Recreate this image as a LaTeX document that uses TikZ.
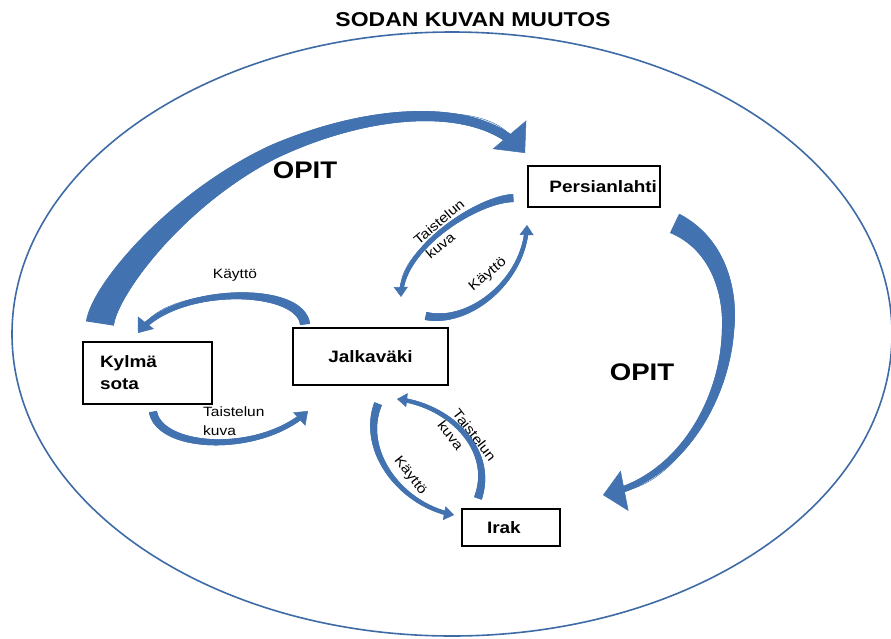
\documentclass[tikz,border=0pt]{standalone}
\usepackage{fontspec}
\setmainfont[FakeStretch=1.15]{Liberation Sans}
\usetikzlibrary{arrows.meta, decorations.markings}
\definecolor{arrowblue}{RGB}{66,114,176}
\definecolor{ringblue}{RGB}{62,106,166}
\tikzset{
    box/.style={rectangle, draw, line width=2pt, fill=white, inner sep=0pt, outer sep=0pt, font=\fontsize{16.5}{22}\selectfont\bfseries},
    lbl/.style={inner sep=0pt, align=left, font=\fontsize{13.5}{19}\selectfont},
    opit/.style={inner sep=0pt, font=\fontsize{24}{28}\selectfont\bfseries},
    % tapered block arrow: tail width, end width, head width, head length
    flow/.style n args={4}{draw=arrowblue, line width=0.5pt, -{Triangle[width=#3pt, length=#4pt]},
        postaction={decorate, decoration={markings,
            mark=between positions 0 and -#4pt step 0.4pt with {
                \pgfmathsetmacro\tpw{#2+(#1-#2)*(1-\pgfkeysvalueof{/pgf/decoration/mark info/distance from start}/\pgfdecoratedpathlength)^2}
                \fill[arrowblue] (-0.5pt,-\tpw pt/2) rectangle (0.5pt,\tpw pt/2);}}}}
}
\begin{document}
\begin{tikzpicture}[x=1pt, y=-1pt]
    \useasboundingbox (0,0) rectangle (891,638);

    \node[font=\fontsize{20}{24}\selectfont\bfseries] (title) at (473,19.5) {SODAN KUVAN MUUTOS};
    \draw[ringblue, line width=1.6pt] (452,334) ellipse [x radius=440pt, y radius=302pt];

    \node[box, minimum width=132, minimum height=41, text width=126, inner xsep=3pt, align=right] (persia) at (594,186.5) {Persianlahti};
    \node[box, minimum width=155, minimum height=57] (jalka) at (370.5,356.5) {Jalkaväki};
    \node[box, minimum width=129, minimum height=62, text width=95, inner xsep=17pt, align=left] (kylma) at (147.5,373) {Kylmä\\sota};
    \node[box, minimum width=98, minimum height=37, text width=48, inner xsep=25pt, align=left] (irak) at (511,527.5) {Irak};

    \node[opit] (opit1) at (305,170) {OPIT};
    \node[opit] (opit2) at (642,372) {OPIT};
    \node[lbl] (kaytto1) at (235,275) {Käyttö};
    \node[lbl, anchor=west] (taist1) at (203,421) {Taistelun\\kuva};
    \node[lbl, rotate=40] (taist2) at (445,229) {Taistelun\\kuva};
    \node[lbl, rotate=40] (kaytto2) at (488,275) {Käyttö};
    \node[lbl, rotate=-52] (taist3) at (467,441) {Taistelun\\kuva};
    \node[lbl, rotate=-52] (kaytto3) at (410,476) {Käyttö};

    % lessons
    \path[flow={28}{9}{44}{24}] ([xshift=-47.5pt, yshift=19pt]kylma.north) .. controls (105,290) and (175,200) .. (273,152)
        .. controls (370,108) and (480,100) .. ([xshift=-3pt, yshift=13pt]persia.north west);
    \path[flow={21}{6}{41}{22}] ([xshift=15pt, yshift=-37pt]persia.east) .. controls (720,245) and (731,295) .. (728,330)
        .. controls (725,400) and (680,480) .. ([xshift=43pt, yshift=14pt]irak.north east);

    % use and picture of combat
    \path[flow={10}{5}{20}{13}] ([xshift=12pt, yshift=4pt]jalka.north west) .. controls (300,285) and (175,285) .. ([xshift=-9.5pt, yshift=9pt]kylma.north);
    \path[flow={8}{5}{18}{12}] ([xshift=5.5pt, yshift=-8pt]kylma.south) .. controls (160,450) and (260,455) .. ([xshift=15pt, yshift=-26pt]jalka.south west);
    \path[flow={8}{4}{14}{10}] ([xshift=-15pt, yshift=-11.5pt]persia.west) .. controls (475,200) and (400,250) .. ([xshift=30.5pt, yshift=31pt]jalka.north);
    \path[flow={8}{4}{14}{10}] ([xshift=-22pt, yshift=12pt]jalka.north east) .. controls (470,325) and (525,280) .. ([xshift=-1pt, yshift=-18pt]persia.south west);
    \path[flow={8}{4}{14}{10}] ([xshift=7.5pt, yshift=-19pt]jalka.south) .. controls (360,450) and (400,505) .. ([xshift=-8pt, yshift=12.5pt]irak.west);
    \path[flow={8}{4}{14}{10}] ([xshift=-33pt, yshift=11pt]irak.north) .. controls (495,450) and (450,405) .. ([xshift=26.5pt, yshift=-14pt]jalka.south);
\end{tikzpicture}
\end{document}
